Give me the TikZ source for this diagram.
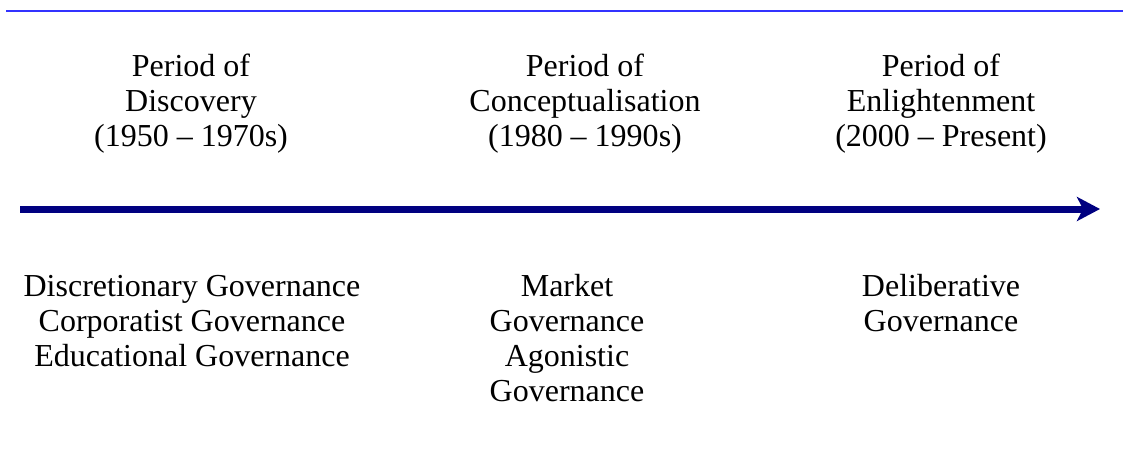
\documentclass[tikz,border=0pt]{standalone}
\usepackage{fontspec}
\setmainfont{Liberation Serif}
\usepackage{tikz}
\usetikzlibrary{arrows.meta}
\usetikzlibrary{positioning}
\definecolor{ruleblue}{HTML}{3333FF}
\definecolor{axisnavy}{HTML}{000080}
\tikzset{era/.style = {align=center, inner sep=0, anchor=base, font=\fontsize{32}{35}\selectfont}}

\begin{document}
\begin{tikzpicture}[x=1pt,y=-1pt]
            \useasboundingbox (0,0) rectangle (1123,455);
            \coordinate (rulel) at (6,11);
            \coordinate (ruler) at (1123,11);
            \draw [ruleblue,line width=1.6pt] (rulel)--(ruler);
            % anchor=base sits on the last line
            \node [era] (discovery) at (191,146) {Period of\\Discovery\\(1950 – 1970s)};
            \node [era] (concept) at (585,146) {Period of\\Conceptualisation\\(1980 – 1990s)};
            \node [era] (enlight) at (941,146) {Period of\\Enlightenment\\(2000 – Present)};
            \coordinate (axisl) at (20,209);
            \coordinate (axisr) at (1100,209);
            \draw [axisnavy,line width=7pt,-{Stealth[length=23pt,width=24pt,inset=6pt]}] (axisl)--(axisr);
            \node [era] (early) at (192,366) {Discretionary Governance\\Corporatist Governance\\Educational Governance};
            \node [era] (market) at (567,401) {Market\\Governance\\Agonistic\\Governance};
            \node [era] (delib) at (941,331) {Deliberative\\Governance};
        \end{tikzpicture}
\end{document}
